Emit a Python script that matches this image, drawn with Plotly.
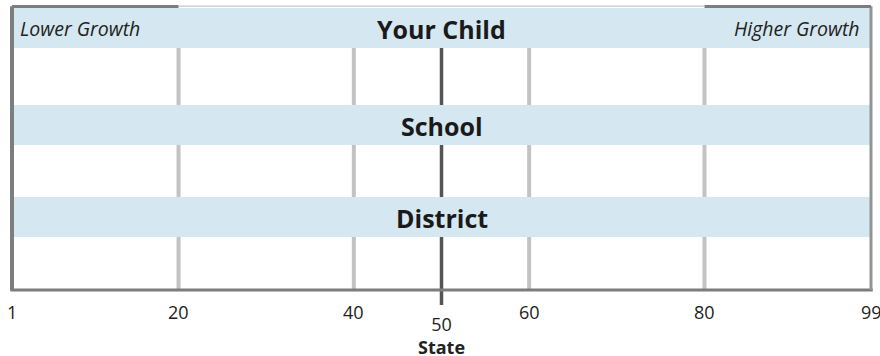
import plotly.graph_objects as go

# ---- data ----
rows = ["Your Child", "School", "District"]
tick_values = [1, 20, 40, 60, 80, 99]
tick_labels = ["1", "20", "40", "60", "80", "99"]
grid_values = [20, 40, 60, 80]
state_value = 50
state_label = "State"
low_label = "Lower Growth"
high_label = "Higher Growth"
x_min, x_max = 1, 99

BAND = "#d5e7f0"
GRID = "#c3c3c3"
STATE = "#555555"
BORDER = "#7d7d7d"
FONT = "Open Sans"

# layout: vertical extent of the plot in pixel-like units (bottom=0, top=282)
Y_TOP = 282
band_tops = [282, 185, 93]
band_h = 40

fig = go.Figure()
fig.add_trace(go.Scatter(x=[x_min, x_max], y=[0, Y_TOP], mode="markers",
                         marker=dict(opacity=0), hoverinfo="skip", showlegend=False))

shapes = []
# state line (paper layer, under bands), extends below the axis
shapes.append(dict(type="line", xref="x", yref="paper", x0=state_value, x1=state_value,
                   y0=-0.053, y1=1, line=dict(color=STATE, width=3.5), layer="below"))
# gridlines (subplot layer, drawn before bands)
for g in grid_values:
    shapes.append(dict(type="line", xref="x", yref="y", x0=g, x1=g, y0=0, y1=Y_TOP,
                       line=dict(color=GRID, width=4), layer="below"))
# bands
for top in band_tops:
    shapes.append(dict(type="rect", xref="x", yref="y", x0=x_min, x1=x_max,
                       y0=top - band_h, y1=top, fillcolor=BAND, line=dict(width=0),
                       layer="below"))
# borders
shapes.append(dict(type="line", xref="paper", yref="paper", x0=0, x1=0, y0=0, y1=1.006,
                   line=dict(color=BORDER, width=4)))
shapes.append(dict(type="line", xref="paper", yref="paper", x0=-0.002, x1=1.002, y0=0, y1=0,
                   line=dict(color=BORDER, width=3)))
shapes.append(dict(type="line", xref="paper", yref="paper", x0=1, x1=1, y0=0, y1=1.006,
                   line=dict(color="#939393", width=3)))
shapes.append(dict(type="line", xref="x", yref="paper", x0=x_min, x1=grid_values[0], y0=1.005, y1=1.005,
                   line=dict(color=BORDER, width=3)))
shapes.append(dict(type="line", xref="x", yref="paper", x0=grid_values[-1], x1=x_max, y0=1.005, y1=1.005,
                   line=dict(color=BORDER, width=3)))
shapes.append(dict(type="line", xref="x", yref="paper", x0=grid_values[0], x1=grid_values[-1], y0=1.006, y1=1.006,
                   line=dict(color="#cfcfcf", width=1.5)))

annotations = []
for r, top in zip(rows, band_tops):
    annotations.append(dict(text=f"<b>{r}</b>", x=state_value, y=top - band_h / 2 - 1,
                            xref="x", yref="y", showarrow=False, yanchor="middle",
                            font=dict(family=FONT, size=25, color="#1a1a1a")))
annotations.append(dict(text=f"<i>{low_label}</i>", x=0.007, xanchor="left", yanchor="middle",
                        y=band_tops[0] - band_h / 2,
                        xref="paper", yref="y", showarrow=False,
                        font=dict(family=FONT, size=19.5, color="#222")))
annotations.append(dict(text=f"<i>{high_label}</i>", x=0.99, xanchor="right", yanchor="middle",
                        y=band_tops[0] - band_h / 2,
                        xref="paper", yref="y", showarrow=False,
                        font=dict(family=FONT, size=19.5, color="#222")))
for v, t in zip(tick_values, tick_labels):
    annotations.append(dict(text=t, x=v, y=-0.078, xref="x", yref="paper", showarrow=False,
                            yanchor="middle", font=dict(family=FONT, size=18, color="#222")))
annotations.append(dict(text=f"{state_value}<br><b>{state_label}</b>", x=state_value, y=-0.163,
                        xref="x", yref="paper", showarrow=False, yanchor="middle",
                        font=dict(family=FONT, size=18, color="#222")))

fig.update_layout(
    width=880, height=356,
    margin=dict(l=11.5, r=9.4, t=8, b=66),
    paper_bgcolor="white", plot_bgcolor="white",
    xaxis=dict(range=[x_min, x_max], visible=False, fixedrange=True),
    yaxis=dict(range=[0, Y_TOP], visible=False, fixedrange=True),
    shapes=shapes, annotations=annotations, showlegend=False,
)

fig.write_html("out.html", config={"displayModeBar": False},
               post_script="document.body.style.margin='0';document.body.style.overflow='hidden';")
